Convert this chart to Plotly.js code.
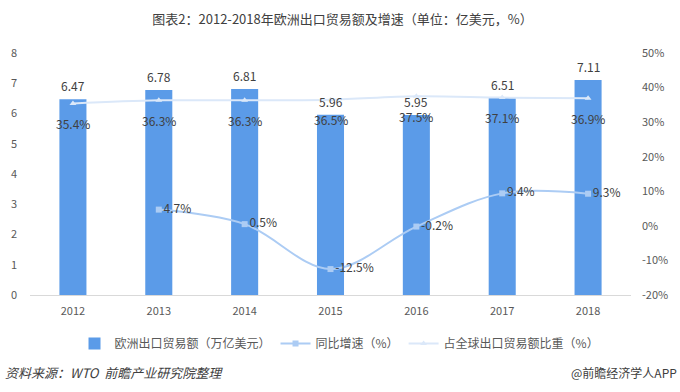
<!DOCTYPE html>
<html>
<head>
<meta charset="utf-8">
<script src="https://cdn.plot.ly/plotly-3.0.1.min.js"></script>
<style>html,body{margin:0;padding:0;background:#fff;}#chart{width:680px;height:392px;}</style>
</head>
<body>
<div id="chart"></div>
<script>
const years = ['2012','2013','2014','2015','2016','2017','2018'];
const exportValue = [6.47, 6.78, 6.81, 5.96, 5.95, 6.51, 7.11];
const growthRate = [null, 4.7, 0.5, -12.5, -0.2, 9.4, 9.3];
const globalShare = [35.4, 36.3, 36.3, 36.5, 37.5, 37.1, 36.9];
const leftTicks = [0,1,2,3,4,5,6,7,8];
const rightTicks = [-20,-10,0,10,20,30,40,50];

const FONT = '"Noto Sans CJK SC", "Noto Sans", sans-serif';

const traces = [
  {
    type: 'bar', x: years, y: exportValue, name: '欧洲出口贸易额（万亿美元）',
    marker: {color: '#5b9be8'}, width: 0.315
  },
  {
    type: 'scatter', mode: 'lines+markers+text', x: years, y: growthRate, yaxis: 'y2',
    name: '同比增速（%）', connectgaps: false,
    line: {color: '#acccf4', width: 2, shape: 'spline'},
    marker: {symbol: 'square', size: 6, color: '#acccf4'},
    text: growthRate.map(v => v === null ? '' : v.toFixed(1) + '%'), textposition: 'middle right',
    textfont: {size: 12, color: '#404040', family: FONT}, cliponaxis: false
  },
  {
    type: 'scatter', mode: 'lines+markers', x: years, y: globalShare, yaxis: 'y2',
    name: '占全球出口贸易额比重（%）',
    line: {color: '#dbe8f9', width: 2, shape: 'spline'},
    marker: {symbol: 'triangle-up', size: 6, color: '#dbe8f9'},
    cliponaxis: false
  }
];

const barLabels = years.map((yr, i) => ({
  x: i, y: exportValue[i], xref: 'x', yref: 'y', yanchor: 'bottom', yshift: 4, borderpad: 0,
  text: exportValue[i].toFixed(2), showarrow: false,
  font: {size: 12, color: '#404040', family: FONT}
}));

const shareLabels = years.map((yr, i) => ({
  x: i, y: globalShare[i], xref: 'x', yref: 'y2', yshift: -20, borderpad: 0,
  text: globalShare[i].toFixed(1) + '%', showarrow: false,
  font: {size: 12, color: '#404040', family: FONT}
}));

const layout = {
  width: 680, height: 392,
  margin: {l: 30, r: 49, t: 53, b: 97},
  paper_bgcolor: '#fff', plot_bgcolor: '#fff',
  font: {family: FONT, color: '#595959', size: 11},
  title: {text: '图表2：2012-2018年欧洲出口贸易额及增速（单位：亿美元，%）',
          font: {size: 13, color: '#404040', family: FONT},
          x: 0.52, xref: 'paper', xanchor: 'center', y: 0.95, yanchor: 'middle'},
  showlegend: true,
  legend: {orientation: 'h', x: 0.515, xanchor: 'center', y: -0.2, yanchor: 'middle',
           font: {size: 12, color: '#595959', family: FONT}, traceorder: 'normal'},
  bargap: 0.6,
  xaxis: {
    type: 'category', categoryarray: years, range: [-0.5, 6.5], showgrid: false, zeroline: false,
    showline: true, linecolor: '#d9d9d9', linewidth: 1,
    ticks: '', tickfont: {size: 11, color: '#595959'}, ticklabelstandoff: 6
  },
  yaxis: {
    range: [0, 8], tickvals: leftTicks, showgrid: false, zeroline: false, showline: false,
    ticks: '', tickfont: {size: 11, color: '#595959'}, ticklabelstandoff: 12
  },
  yaxis2: {
    overlaying: 'y', side: 'right', range: [-20, 50], tickvals: rightTicks,
    ticktext: rightTicks.map(v => v + '%'), showgrid: false, zeroline: false, showline: false,
    ticks: '', tickfont: {size: 11, color: '#595959'}, ticklabelstandoff: 10
  },
  annotations: barLabels.concat(shareLabels).concat([
    {text: '资料来源：WTO  前瞻产业研究院整理', xref: 'paper', yref: 'paper', x: -0.045, y: -0.32,
     xanchor: 'left', yanchor: 'middle', showarrow: false,
     font: {size: 13, color: '#404040', family: FONT, style: 'italic'}},
    {text: '@前瞻经济学人APP', xref: 'paper', yref: 'paper', x: 1.08, y: -0.32,
     xanchor: 'right', yanchor: 'middle', showarrow: false,
     font: {size: 12, color: '#404040', family: FONT}}
  ])
};

Plotly.newPlot('chart', traces, layout, {displayModeBar: false, staticPlot: true});
</script>
</body>
</html>
